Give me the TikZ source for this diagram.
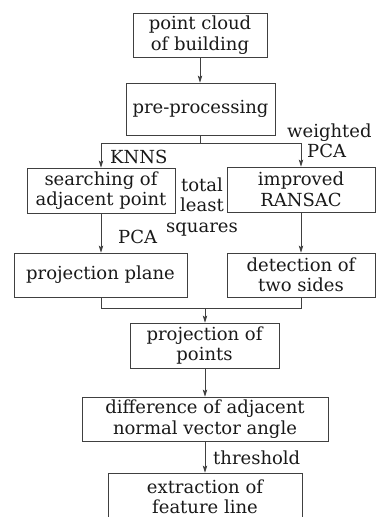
\documentclass[tikz,border=0pt]{standalone}
\usepackage{fontspec}
\setmainfont{DejaVu Serif}
\usetikzlibrary{arrows.meta}
\begin{document}
\begin{tikzpicture}[x=1pt,y=-1pt,
  txt/.style={font=\fontsize{18}{20.5}\selectfont, text=black!90},
  box/.style={txt, draw=black!75, line width=0.8pt, inner sep=0pt, align=center},
  lbl/.style={txt, inner sep=0pt},
  conn/.style={draw=black!75, line width=0.8pt},
  arr/.style={conn, -{Stealth[length=7pt,width=4.5pt,inset=1.5pt]}}]
\useasboundingbox (0,0) rectangle (377,517);
\node[box, minimum width=134pt, minimum height=44pt] (b1) at (200,35) {point cloud\\of building};
\node[box, minimum width=149pt, minimum height=52pt] (b2) at (200.5,109) {pre-processing};
\node[box, minimum width=148pt, minimum height=45pt] (b3) at (101,190.5) {searching of\\adjacent point};
\node[box, minimum width=148pt, minimum height=45pt] (b4) at (301,189.5) {improved\\RANSAC};
\node[box, minimum width=173pt, minimum height=44pt] (b5) at (100.5,275) {projection plane};
\node[box, minimum width=148pt, minimum height=44pt] (b6) at (301,275) {detection of\\two sides};
\node[box, minimum width=149pt, minimum height=45pt] (b7) at (204.5,345.5) {projection of\\points};
\node[box, minimum width=246pt, minimum height=44pt] (b8) at (205,419) {difference of adjacent\\normal vector angle};
\node[box, minimum width=194pt, minimum height=48pt] (b9) at (205,497) {extraction of\\feature line};
% labels
\node[lbl, anchor=base west] (lknns) at (110,163) {KNNS};
\node[lbl, anchor=base west] (lw) at (287,137) {weighted};
\node[lbl, anchor=base west] (lpca1) at (307,157) {PCA};
\node[lbl, align=center, anchor=center] (ltls) at (202,207) {total\\least\\squares};
\node[lbl, anchor=base west] (lpca2) at (118,243) {PCA};
\node[lbl, anchor=base west] (lth) at (213,464) {threshold};
% connectors
\coordinate (j1) at (200,143);
\coordinate (j2) at (205,308);
\draw[arr] (b1.south) -- (b2.north -| b1.south);
\draw[conn] (b2.south -| j1) -- (j1);
\draw[arr] (j1) -| (b3.north);
\draw[arr] (j1) -| (b4.north);
\draw[arr] (b3.south) -- (b5.north -| b3.south);
\draw[arr] (b4.south) -- (b6.north -| b4.south);
\draw[conn] (b5.south -| b3.south) |- (j2);
\draw[conn] (b6.south) |- (j2);
\draw[arr] (j2) -- (b7.north -| j2);
\draw[arr] (b7.south -| j2) -- (b8.north -| j2);
\draw[arr] (b8.south -| j2) -- (b9.north -| j2);
\end{tikzpicture}
\end{document}
